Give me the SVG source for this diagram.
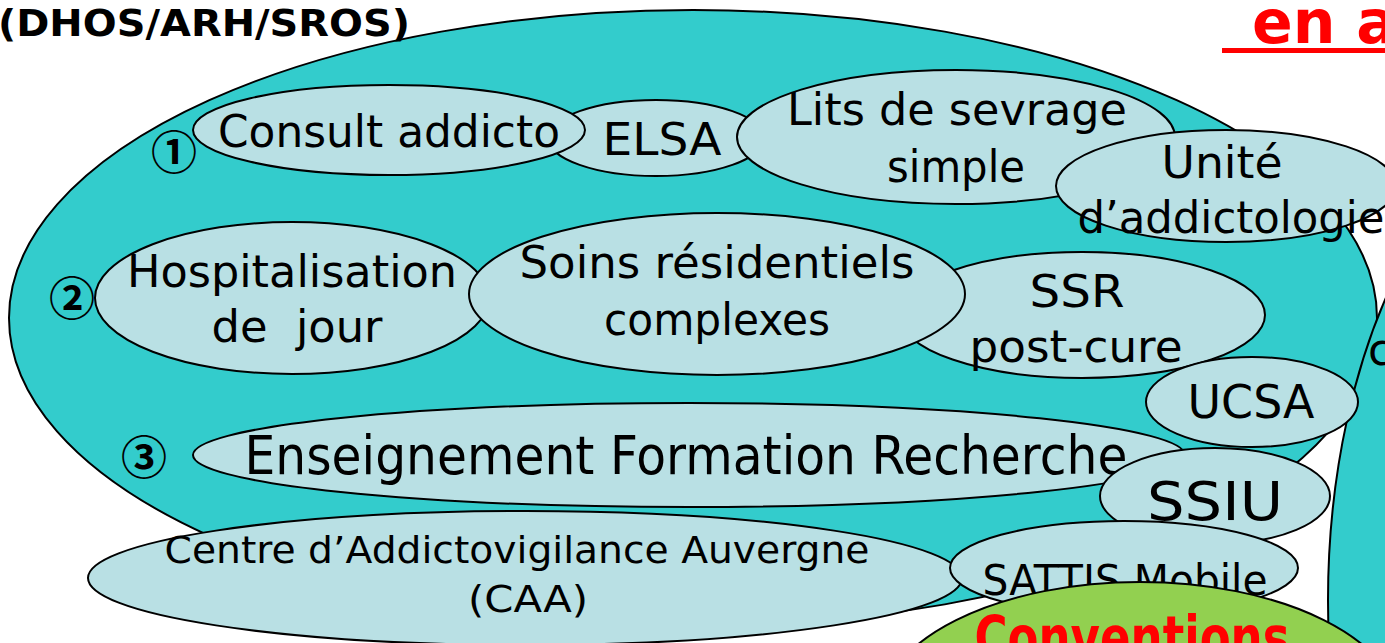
<svg xmlns="http://www.w3.org/2000/svg" width="1385" height="643" viewBox="0 0 1385 643">
<style>
.n ellipse{fill:#B9E0E4;stroke:#000;stroke-width:2}
.t{font-family:"DejaVu Sans","Liberation Sans",sans-serif;fill:#000;text-anchor:middle}
.num{font-family:"Noto Sans CJK JP","Noto Sans CJK SC","DejaVu Sans",sans-serif;fill:#000;text-anchor:middle;font-size:46px;font-weight:bold}
.zone{fill:#33CCCC;stroke:#000;stroke-width:2}
</style>
<rect width="1385" height="643" fill="#fff"/>
<g id="reseau"><ellipse class="zone" cx="693" cy="318" rx="684" ry="308"/></g>
<g id="zone-droite"><ellipse class="zone" cx="1600" cy="600" rx="272" ry="490"/>
<text class="t" x="1368" y="365" font-size="44" style="text-anchor:start">c</text></g>
<g id="connectors"></g>
<g id="elsa" class="n"><ellipse cx="656" cy="138" rx="108" ry="38"/><text class="t" x="662" y="155" font-size="44" textLength="119" lengthAdjust="spacingAndGlyphs">ELSA</text></g>
<g id="consult" class="n"><ellipse cx="389" cy="130" rx="196" ry="45"/><text class="t" x="389" y="147" font-size="44" textLength="342" lengthAdjust="spacingAndGlyphs">Consult addicto</text></g>
<g id="lits" class="n"><ellipse cx="956" cy="137" rx="219" ry="67"/><text class="t" x="957" y="125" font-size="44" textLength="340" lengthAdjust="spacingAndGlyphs">Lits de sevrage</text><text class="t" x="956" y="182" font-size="44" textLength="138" lengthAdjust="spacingAndGlyphs">simple</text></g>
<g id="unite" class="n"><ellipse cx="1226" cy="186" rx="170" ry="56"/><text class="t" x="1222" y="178" font-size="44" textLength="121" lengthAdjust="spacingAndGlyphs">Unité</text><text class="t" x="1231" y="233" font-size="44" textLength="307" lengthAdjust="spacingAndGlyphs">d’addictologie</text></g>
<g id="ssr" class="n"><ellipse cx="1082" cy="315" rx="183" ry="63"/><text class="t" x="1077" y="307" font-size="44" textLength="95" lengthAdjust="spacingAndGlyphs">SSR</text><text class="t" x="1076" y="362" font-size="44" textLength="213" lengthAdjust="spacingAndGlyphs">post-cure</text></g>
<g id="hdj" class="n"><ellipse cx="292" cy="298" rx="197" ry="76"/><text class="t" x="292" y="287" font-size="44" textLength="330" lengthAdjust="spacingAndGlyphs">Hospitalisation</text><text class="t" x="297" y="342" font-size="44" textLength="171" lengthAdjust="spacingAndGlyphs" xml:space="preserve">de  jour</text></g>
<g id="soins" class="n"><ellipse cx="717" cy="294" rx="248" ry="81"/><text class="t" x="717" y="278" font-size="44" textLength="395" lengthAdjust="spacingAndGlyphs">Soins résidentiels</text><text class="t" x="717" y="335" font-size="44" textLength="226" lengthAdjust="spacingAndGlyphs">complexes</text></g>
<g id="ucsa" class="n"><ellipse cx="1252" cy="402" rx="106" ry="45"/><text class="t" x="1251" y="418" font-size="46" textLength="127" lengthAdjust="spacingAndGlyphs">UCSA</text></g>
<g id="efr" class="n"><ellipse cx="689" cy="455" rx="496" ry="52"/><text class="t" x="686" y="474" font-size="54" textLength="883" lengthAdjust="spacingAndGlyphs">Enseignement Formation Recherche</text></g>
<g id="ssiu" class="n"><ellipse cx="1215" cy="496" rx="115" ry="48"/><text class="t" x="1215" y="520" font-size="54" textLength="136" lengthAdjust="spacingAndGlyphs">SSIU</text></g>
<g id="caa" class="n"><ellipse cx="525" cy="578" rx="437" ry="67"/><text class="t" x="517" y="563" font-size="38" textLength="705" lengthAdjust="spacingAndGlyphs">Centre d’Addictovigilance Auvergne</text><text class="t" x="528" y="612" font-size="38" textLength="120" lengthAdjust="spacingAndGlyphs">(CAA)</text></g>
<g id="sattis" class="n"><ellipse cx="1124" cy="568" rx="174" ry="47"/><text class="t" x="1125" y="595" font-size="42" textLength="285" lengthAdjust="spacingAndGlyphs">SATTIS Mobile</text></g>
<g id="conventions"><ellipse cx="1140" cy="712" rx="260" ry="130" fill="#92D050" stroke="#000" stroke-width="2"/><text class="t" x="1132" y="658" font-size="58" font-weight="bold" style="fill:#FF0000" textLength="315" lengthAdjust="spacingAndGlyphs">Conventions</text></g>
<g id="numeros"><text class="num" x="174" y="169">①</text><text class="num" x="72" y="315">②</text><text class="num" x="144" y="474">③</text></g>
<g id="titre"><text x="-2" y="36" font-family="'DejaVu Sans','Liberation Sans',sans-serif" font-size="38" font-weight="bold" fill="#000" textLength="412" lengthAdjust="spacingAndGlyphs">(DHOS/ARH/SROS)</text></g>
<g id="titre-rouge"><text x="1252" y="43" font-family="'DejaVu Sans','Liberation Sans',sans-serif" font-size="60" font-weight="bold" fill="#FF0000">en a</text><rect x="1222" y="48" width="170" height="5" fill="#FF0000"/></g>
</svg>
